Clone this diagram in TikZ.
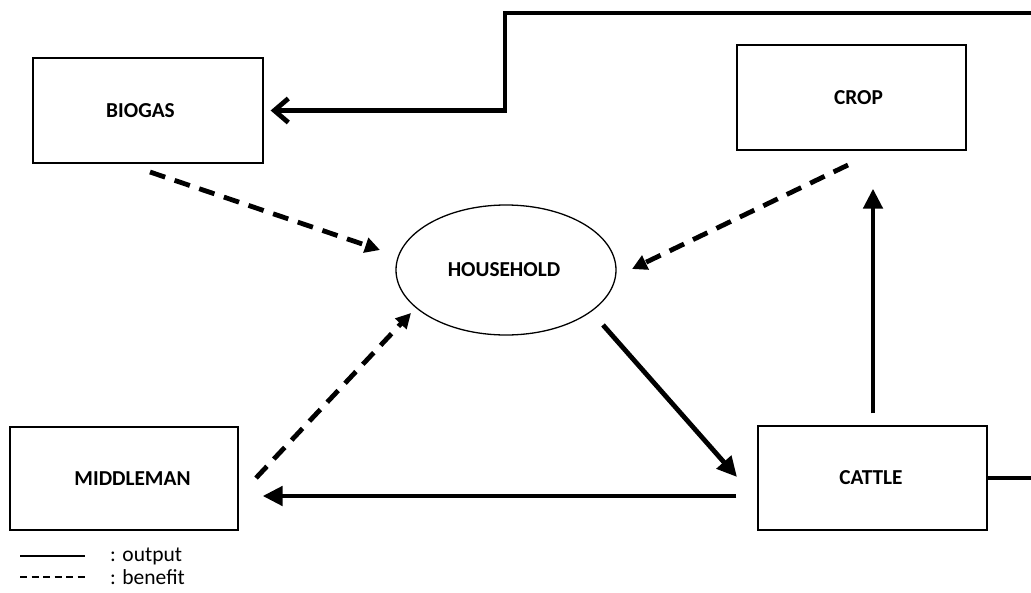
\documentclass[tikz,border=0pt]{standalone}
\usepackage{fontspec}
\setmainfont{Carlito}
\usetikzlibrary{arrows.meta,shapes.geometric}
\begin{document}
\begin{tikzpicture}[x=1pt,y=-1pt,
 box/.style={draw,line width=1.3pt,inner sep=0pt,font=\fontsize{21.3}{24}\selectfont\bfseries},
 outarrow/.style={line width=4.8pt,-{Triangle[length=20pt,width=19pt]}},
 benarrow/.style={line width=4.8pt,dash pattern=on 16pt off 10pt,-{Triangle[length=15pt,width=15pt]}},
 legtext/.style={anchor=west,inner sep=0pt,font=\fontsize{21.5}{24}\selectfont},
]
\useasboundingbox (0,0) rectangle (1031,592);
\fill[white] (0,0) rectangle (1031,592);
\clip (0,0) rectangle (1031,592);

\node[box,minimum width=230pt,minimum height=105pt] (biogas) at (148,110.5) {BIOGAS\hspace*{15pt}};
\node[box,minimum width=229pt,minimum height=105pt] (crop) at (851.5,97.5) {\hspace*{14pt}CROP};
\node[box,minimum width=228pt,minimum height=103pt] (middleman) at (124,478.5) {\hspace*{17pt}MIDDLEMAN};
\node[box,minimum width=229pt,minimum height=104pt] (cattle) at (872.5,478) {CATTLE\hspace*{3pt}};
\node[box,ellipse,minimum width=220pt,minimum height=130pt] (household) at (506,270) {HOUSEHOLD\hspace*{4pt}};

% solid output arrows
\draw[line width=4.8pt,-{Straight Barb[length=14pt,width=24pt]}]
  (cattle.east) -- (1045,478) |- (505,13) |- ([xshift=7pt]biogas.east);
\draw[outarrow] ([xshift=0.5pt,yshift=12pt]cattle.north) -- ([xshift=0.5pt,yshift=-38pt]cattle.north |- crop.south);
\draw[outarrow] ([shift={(97pt,-55pt)}]household.center) -- ([shift={(-135.5pt,1pt)}]cattle.center);
\draw[outarrow] ([xshift=-21pt,yshift=-18pt]cattle.west) -- ([xshift=24pt,yshift=-17.5pt]middleman.east);

% dashed benefit arrows
\draw[benarrow] ([shift={(2pt,-61.5pt)}]biogas.center) -- ([shift={(-126pt,20pt)}]household.center);
\draw[benarrow] ([shift={(-3.5pt,-67.5pt)}]crop.center) -- ([shift={(126pt,1pt)}]household.center);
\draw[benarrow] ([shift={(132pt,0.5pt)}]middleman.center) -- ([shift={(-95pt,-43pt)}]household.center);

% legend
\coordinate (ls1) at (20,556);
\coordinate (ls2) at (85,556);
\coordinate (lb1) at (20,577);
\coordinate (lb2) at (85,577);
\draw[line width=1.5pt] (ls1) -- (ls2);
\draw[line width=1.5pt,dash pattern=on 7pt off 4.5pt] (lb1) -- (lb2);
\node[legtext] (lo) at (110,556) {: output};
\node[legtext] (lbn) at (110,577) {: benefit};
\end{tikzpicture}
\end{document}
